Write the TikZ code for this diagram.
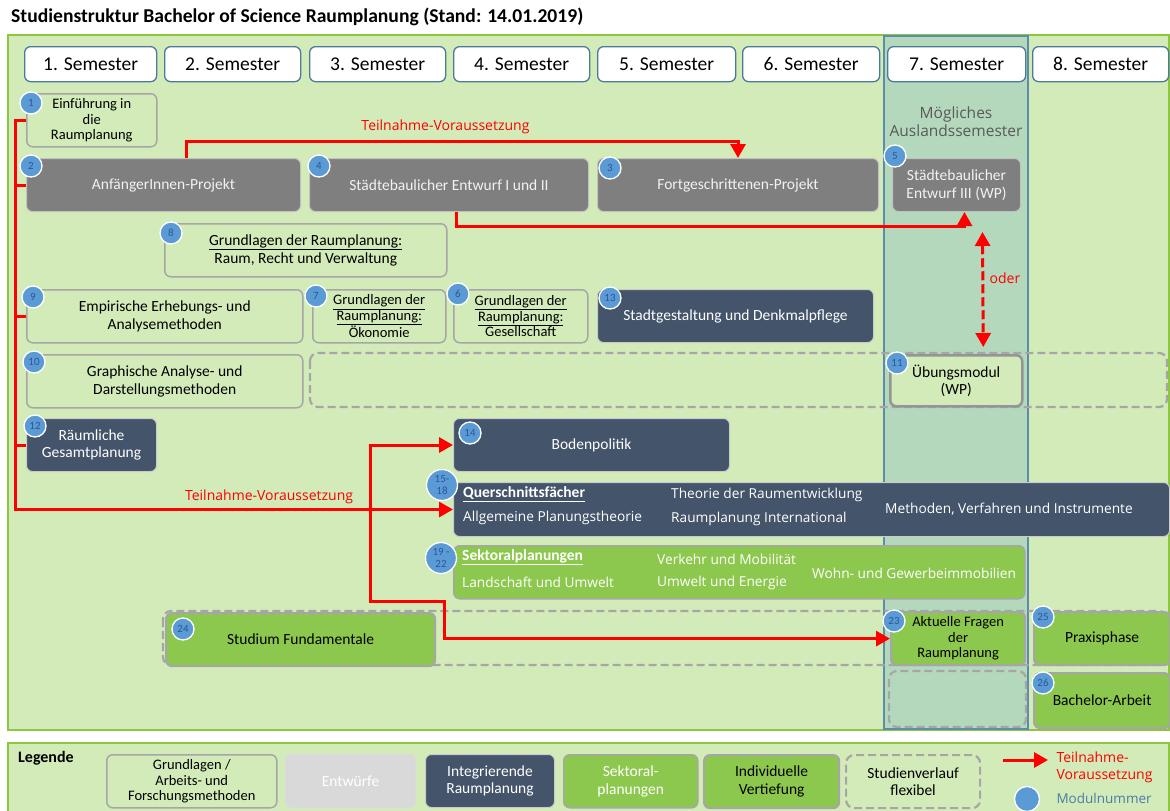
\documentclass[tikz,border=0pt]{standalone}
\usepackage{fontspec}
\setmainfont{Carlito}
\newfontfamily\segoe{Open Sans}
\usetikzlibrary{arrows.meta}

\definecolor{panelgruen}{HTML}{D3EBB8}
\definecolor{randgruen}{HTML}{8DC63F}
\definecolor{spalte}{HTML}{B4D8BC}
\definecolor{spalterand}{HTML}{5B8DAA}
\definecolor{entwurf}{HTML}{7F7F7F}
\definecolor{navy}{HTML}{44546A}
\definecolor{hellgruen}{HTML}{8DC84E}
\definecolor{kreis}{HTML}{5B9BD5}
\definecolor{kreistext}{HTML}{2F5597}
\definecolor{grau}{HTML}{A6A6A6}
\definecolor{legendgrau}{HTML}{D9D9D9}
\definecolor{semrand}{HTML}{4A7A9A}

\tikzset{
  feld/.style={rounded corners=6pt, minimum height=53pt, anchor=north west, align=center,
    inner sep=2pt, font=\fontsize{15.5}{17.5}\selectfont},
  drei/.style={inner sep=1pt, font=\fontsize{14.5}{15.5}\selectfont},
  grund/.style={feld, draw=grau, line width=1.5pt, fill=panelgruen},
  entw/.style={feld, fill=entwurf, draw=grau!70, line width=1pt, text=white!95!black},
  integ/.style={feld, fill=navy, draw=grau!60, line width=1pt, text=white},
  sektor/.style={feld, fill=hellgruen, draw=grau, line width=1.5pt, text=white},
  vertief/.style={feld, fill=hellgruen, draw=grau, line width=2.2pt, text=black},
  flex/.style={rounded corners=8pt, draw=grau, line width=2.2pt, dash pattern=on 8pt off 4pt},
  num/.style={circle, fill=kreis, draw=white, line width=1.3pt, minimum size=22pt, inner sep=0pt,
    text=kreistext, align=center, font=\fontsize{11}{11}\selectfont},
  sem/.style={rounded corners=6pt, draw=semrand, line width=1.3pt, fill=white, minimum height=35pt,
    anchor=north west, font=\fontsize{19.5}{22}\selectfont},
  liste/.style={anchor=west, inner sep=0pt, text=white, font=\segoe\fontsize{13.7}{15}\selectfont},
  rottext/.style={text=red, font=\segoe\fontsize{14}{16}\selectfont},
  rot/.style={draw=red, line width=3pt},
  pfeil/.style={rot, -{Triangle[length=14pt,width=15pt]}}
}

\begin{document}
\begin{tikzpicture}[x=1pt,y=-1pt]
\useasboundingbox (0,0) rectangle (1170,811);
\fill[white] (0,0) rectangle (1170,811);
\node[anchor=west, inner sep=0pt, font=\fontsize{19.6}{22}\selectfont\bfseries] (titel) at (11,17)
  {Studienstruktur Bachelor of Science Raumplanung (Stand: 14.01.2019)};
\draw[fill=panelgruen, draw=randgruen, line width=1.5pt] (8,35) rectangle (1169,730);
\draw[fill=panelgruen, draw=randgruen, line width=1.5pt] (8,743) rectangle (1169,813);
\draw[fill=spalte, draw=spalterand, line width=1.2pt] (884,36) rectangle (1028,729);

\foreach \i/\xa/\w in {1/24/132,2/164/136,3/309/136,4/453/136,5/597/138,6/742/137,7/887/138,8/1032/136}
  \node[sem, minimum width=\w] (s\i) at (\xa,46) {\i. Semester};

\node[text=black!65, align=center, font=\segoe\fontsize{15.5}{18}\selectfont] (ausland) at (956,122)
  {Mögliches\\Auslandssemester};

\node[grund, drei, minimum width=130pt] (einf) at (26,93) {Einführung in\\die\\Raumplanung};
\node[entw, minimum width=274pt] (anfp) at (26,158) {AnfängerInnen-Projekt};
\node[entw, minimum width=279pt] (stb12) at (309,158) {Städtebaulicher Entwurf I und II};
\node[entw, minimum width=281pt] (fortp) at (597,158) {Fortgeschrittenen-Projekt};
\node[entw, minimum width=128pt] (stb3) at (892,158) {Städtebaulicher\\Entwurf III (WP)};
\node[grund, minimum width=282pt] (grr) at (164,223)
  {\underline{Grundlagen der Raumplanung:}\\Raum, Recht und Verwaltung};
\node[grund, minimum width=276pt] (emp) at (26,289) {Empirische Erhebungs- und\\Analysemethoden};
\node[grund, drei, minimum width=133pt] (oek) at (312,289)
  {\underline{Grundlagen der}\\\underline{Raumplanung:}\\Ökonomie};
\node[grund, drei, minimum width=134pt] (ges) at (453,289)
  {\underline{Grundlagen der}\\\underline{Raumplanung:}\\Gesellschaft};
\node[integ, minimum width=276pt] (stadt) at (597,289) {Stadtgestaltung und Denkmalpflege};
\node[grund, minimum width=276pt] (graph) at (26,354) {Graphische Analyse- und\\Darstellungsmethoden};
\draw[flex] (310,353) rectangle (1167,407);
\node[grund, line width=2.5pt, draw=grau!90!black, minimum width=132pt, minimum height=51pt] (uebung) at (889,354)
  {Übungsmodul\\(WP)};
\node[integ, minimum width=130pt] (rgp) at (26,418) {Räumliche\\Gesamtplanung};
\node[integ, minimum width=276pt] (boden) at (453,418) {Bodenpolitik};

\node[integ, minimum width=716pt, minimum height=54pt] (qsf) at (453,482) {};
\node[liste, font=\fontsize{15.5}{17}\selectfont\bfseries] (qsf0) at (463,494) {\underline{Querschnittsfächer}};
\node[liste] (qsf1) at (463,518) {Allgemeine Planungstheorie};
\node[liste] (qsf2) at (671,495) {Theorie der Raumentwicklung};
\node[liste] (qsf3) at (671,519) {Raumplanung International};
\node[liste] (qsf4) at (885,509) {Methoden, Verfahren und Instrumente};

\node[sektor, minimum width=571pt] (sek) at (453,545) {};
\node[liste, font=\fontsize{15.5}{17}\selectfont\bfseries] (sek0) at (462,557) {\underline{Sektoralplanungen}};
\node[liste] (sek1) at (462,582) {Landschaft und Umwelt};
\node[liste] (sek2) at (657,559) {Verkehr und Mobilität};
\node[liste] (sek3) at (657,583) {Umwelt und Energie};
\node[liste] (sek4) at (812,573) {Wohn- und Gewerbeimmobilien};

\draw[flex] (163,611) rectangle (1167,665);
\node[vertief, minimum width=269pt] (stfund) at (165,612) {Studium Fundamentale};
\node[vertief, drei, minimum width=134pt] (aktf) at (890,611) {Aktuelle Fragen\\der\\Raumplanung};
\node[vertief, minimum width=136pt] (praxis) at (1033,611) {Praxisphase};
\draw[flex] (889,671) rectangle (1026,727);
\node[vertief, minimum width=136pt, minimum height=55pt] (bach) at (1033,672) {Bachelor-Arbeit};

\foreach \nr/\x/\y in {1/31/103,2/31/166,4/319/166,3/610/168,5/895/156,8/171/233,9/33/297,7/316/296,
  6/458/294,13/610/298,10/34/362,11/897/363,12/35/426,14/470/433,24/183/629,23/894/621,25/1043/617,26/1043/683}
  \node[num] (k\nr) at (\x,\y) {\nr};
\node[num, minimum size=31pt, font=\fontsize{11}{12}\selectfont] (k15) at (442,485) {15-\\18};
\node[num, minimum size=31pt, font=\fontsize{11}{12}\selectfont] (k19) at (441,558) {19 -\\22};

\coordinate (bus) at (15,0);
\draw[pfeil] (einf.west) -- (bus |- einf.west) |- (qsf.west)
  node[pos=0.79, above=1pt, rottext] (tv2) {Teilnahme-Voraussetzung};
\foreach \z in {anfp,emp,rgp}
  \draw[rot] (bus |- \z.west) -- (\z.west);

\draw[pfeil] ([xshift=160pt]anfp.north west) -- ++(0,-17) -| (fortp.north)
  node[pos=0.235, above=2pt, rottext] (tv1) {Teilnahme-Voraussetzung};
\draw[pfeil] ([xshift=7pt]stb12.south) -- ++(0,14) -| ([xshift=8pt]stb3.south);
\draw[rot, dash pattern=on 9pt off 4pt, {Triangle[length=14pt,width=15pt]}-{Triangle[length=14pt,width=15pt]}]
  ([xshift=26pt,yshift=-20pt]stb3.south) -- ([xshift=27pt,yshift=7pt]uebung.north)
  node[pos=0.4, right=2pt, rottext] (oder) {oder};

\coordinate (knick) at (370,601);
\coordinate (stufe) at (444,601);
\draw[rot, {Triangle[length=14pt,width=15pt]}-{Triangle[length=14pt,width=15pt]}]
  (boden.west) -| (knick) -- (stufe) |- (aktf.west);

\node[anchor=west, inner sep=0pt, font=\fontsize{16}{18}\selectfont\bfseries] (leg) at (18,758) {Legende};
\node[grund, drei, minimum width=170pt] (lg1) at (106,754) {Grundlagen /\\Arbeits- und\\Forschungsmethoden};
\node[feld, fill=legendgrau, draw=grau!40, line width=1pt, text=white, minimum width=130pt] (lg2) at (285,754) {Entwürfe};
\node[integ, minimum width=129pt] (lg3) at (425,754) {Integrierende\\Raumplanung};
\node[sektor, minimum width=134pt] (lg4) at (563,754) {Sektoral-\\planungen};
\node[vertief, minimum width=135pt] (lg5) at (703,754) {Individuelle\\Vertiefung};
\node[feld, flex, minimum width=134pt] (lg6) at (845,754) {Studienverlauf\\flexibel};
\coordinate (lstart) at (1003,760);
\coordinate (lende) at (1048,760);
\draw[pfeil] (lstart) -- (lende);
\node[anchor=west, align=left, rottext, font=\segoe\fontsize{14}{17}\selectfont] (ltn) at (1053,767)
  {Teilnahme-\\Voraussetzung};
\node[num, minimum size=25pt] (lk) at (1027,799) {};
\node[anchor=west, text=kreis!80!black, font=\segoe\fontsize{13.5}{15}\selectfont] (lmn) at (1053,798) {Modulnummer};
\end{tikzpicture}
\end{document}
